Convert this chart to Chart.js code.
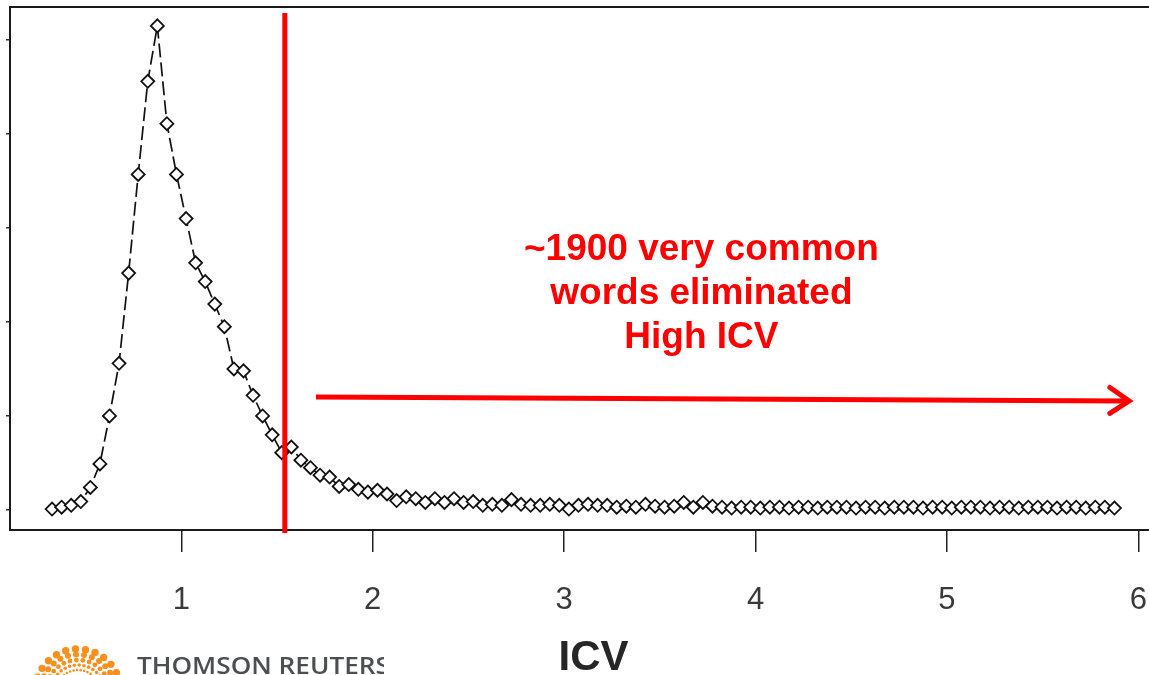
<!DOCTYPE html>
<html><head><meta charset="utf-8">
<script src="https://cdn.jsdelivr.net/npm/chart.js@4"></script>
<style>
html,body{margin:0;padding:0;background:#fff;overflow:hidden;width:1149px;height:675px;}
#wrap{position:absolute;left:0;top:0;width:1180px;height:675px;}
canvas{display:block;}
</style></head><body>
<div id="wrap"><canvas id="c" width="1180" height="675"></canvas></div>
<script>
// ---- data ----
const icvValues = [0.325,0.375,0.425,0.475,0.525,0.575,0.625,0.675,0.725,0.775,
  0.825,0.875,0.925,0.975,1.025,1.075,1.125,1.175,1.225,1.275,
  1.325,1.375,1.425,1.475,1.525,1.575,1.625,1.675,1.725,1.775,
  1.825,1.875,1.925,1.975,2.025,2.075,2.125,2.175,2.225,2.275,
  2.325,2.375,2.425,2.475,2.525,2.575,2.625,2.675,2.725,2.775,
  2.825,2.875,2.925,2.975,3.025,3.075,3.125,3.175,3.225,3.275,
  3.325,3.375,3.425,3.475,3.525,3.575,3.625,3.675,3.725,3.775,
  3.825,3.875,3.925,3.975,4.025,4.075,4.125,4.175,4.225,4.275,
  4.325,4.375,4.425,4.475,4.525,4.575,4.625,4.675,4.725,4.775,
  4.825,4.875,4.925,4.975,5.025,5.075,5.125,5.175,5.225,5.275,
  5.325,5.375,5.425,5.475,5.525,5.575,5.625,5.675,5.725,5.775,
  5.825,5.875];
const wordCounts = [1,3,5,9,24,49,100,156,252,357,
  456,515,411,357,310,263,243,219,195,150,
  148,122,100,80,61,67,53,45,37,35,
  25,27,22,19,21,17,10,14,12,8,
  12,8,12,8,9,5,6,5,11,6,
  5,5,6,5,1,5,6,5,5,3,
  4,3,6,4,3,4,8,3,8,4,
  3,2,3,3,2,3,3,2,3,3,
  2,3,3,3,2,3,3,2,3,3,
  3,2,3,3,2,3,3,3,2,3,
  3,2,3,3,3,2,3,3,2,3,
  3,2];
const xTickValues = [1,2,3,4,5,6];
const xTickLabels = ['1','2','3','4','5','6'];
const yTickValues = [0,100,200,300,400,500];
const xRange = [0.1053, 6.2022];
const yRange = [-21.3, 535.1];
const thresholdICV = [1.541];
const thresholdSpan = [-24.5, 528.7];
const arrowShaftX = [1.704, 5.942];
const arrowShaftY = [120.2, 116.0];
const arrowHeadX = [5.851, 5.952, 5.851];
const arrowHeadY = [130.3, 116.0, 102.7];
const noteLines = ['~1900 very common', 'words eliminated', 'High ICV'];
const noteAnchor = [3.717, 266];
const axisTitle = 'ICV';
const brandName = 'THOMSON REUTERS';

const pts = (xs, ys) => xs.map((x, i) => ({x, y: ys[i]}));

const decor = {
  id: 'decor',
  beforeDatasetsDraw(chart) {
    const {ctx, chartArea: a} = chart;
    ctx.save();
    ctx.strokeStyle = '#1a1a1a'; ctx.lineWidth = 2;
    ctx.beginPath(); ctx.moveTo(a.left - 1, a.top); ctx.lineTo(a.right, a.top); ctx.stroke();
    ctx.restore();
  },
  afterDraw(chart) {
    const ctx = chart.ctx, xs = chart.scales.x, ys = chart.scales.y;
    ctx.save();
    // annotation text
    ctx.fillStyle = '#ff0000';
    ctx.font = 'bold 37px "Liberation Sans", Arial, sans-serif';
    ctx.textAlign = 'center'; ctx.textBaseline = 'alphabetic';
    const cx = xs.getPixelForValue(noteAnchor[0]);
    const by = ys.getPixelForValue(noteAnchor[1]);
    noteLines.forEach((t, i) => ctx.fillText(t, cx, by + i * 44));
    // brand text
    ctx.save();
    ctx.beginPath(); ctx.rect(0, 630, 384, 45); ctx.clip();
    ctx.fillStyle = '#4d4e50';
    ctx.font = '600 23px "Open Sans", "Liberation Sans", sans-serif';
    ctx.textAlign = 'left';
    const w = ctx.measureText(brandName).width;
    ctx.translate(137, 674);
    ctx.scale(253 / w, 1);
    ctx.fillText(brandName, 0, 0);
    ctx.restore();
    // dotted logo
    ctx.fillStyle = '#f7901e';
    const lc = {x: 78, y: 692};
    const rings = [[22, 1.3], [27, 1.8], [32, 2.4], [37.5, 3.0], [43, 3.7]];
    rings.forEach(([r, dr], ri) => {
      const n = Math.round(2 * Math.PI * r / (dr * 2.7));
      for (let k = 0; k < n; k++) {
        const ang = (k + (ri % 2) * 0.5) / n * 2 * Math.PI;
        const px = lc.x + r * Math.cos(ang), py = lc.y + r * Math.sin(ang);
        if (py > 679) continue;
        ctx.beginPath(); ctx.arc(px, py, dr, 0, 2 * Math.PI); ctx.fill();
      }
    });
    ctx.restore();
  }
};

new Chart(document.getElementById('c'), {
  type: 'scatter',
  data: {
    datasets: [
      {
        data: pts(icvValues, wordCounts),
        showLine: true, tension: 0,
        borderColor: '#111', borderWidth: 1.7, borderDash: [14, 5],
        pointStyle: 'rectRot', pointRadius: 6.5, pointBorderWidth: 1.8,
        pointBorderColor: '#111', pointBackgroundColor: '#fff',
        order: 5
      },
      {
        data: pts([thresholdICV[0], thresholdICV[0]], thresholdSpan),
        showLine: true, borderColor: '#ff0000', borderWidth: 5,
        pointRadius: 0, clip: false, order: 0
      },
      {
        data: pts(arrowShaftX, arrowShaftY),
        showLine: true, borderColor: '#ff0000', borderWidth: 5,
        borderCapStyle: 'butt', pointRadius: 0, clip: false, order: 0
      },
      {
        data: pts(arrowHeadX, arrowHeadY),
        showLine: true, borderColor: '#ff0000', borderWidth: 5,
        borderCapStyle: 'round', borderJoinStyle: 'miter', pointRadius: 0, clip: false, order: 0
      }
    ]
  },
  options: {
    responsive: false, animation: false, devicePixelRatio: 1,
    layout: {autoPadding: false, padding: {top: 7, left: 0, right: 0, bottom: 0}},
    plugins: {legend: {display: false}, tooltip: {enabled: false}},
    scales: {
      x: {
        type: 'linear', min: xRange[0], max: xRange[1],
        afterBuildTicks: s => { s.ticks = xTickValues.map(v => ({value: v})); },
        afterFit: s => { s.height = 145; },
        grid: {drawOnChartArea: false, drawTicks: true, tickLength: 22, color: '#222', lineWidth: 1.5},
        border: {display: true, color: '#1a1a1a', width: 2},
        ticks: {
          callback: (v) => xTickLabels[xTickValues.indexOf(v)],
          color: '#3a3a3a', padding: 33, maxRotation: 0,
          font: {family: '"Liberation Sans", Arial, sans-serif', size: 31, lineHeight: 1}
        },
        title: {
          display: true, text: axisTitle, color: '#262626',
          font: {family: '"Liberation Sans", Arial, sans-serif', weight: 'bold', size: 42, lineHeight: 1},
          padding: {top: 0, bottom: -4}
        }
      },
      y: {
        type: 'linear', min: yRange[0], max: yRange[1],
        afterBuildTicks: s => { s.ticks = yTickValues.map(v => ({value: v})); },
        afterFit: s => { s.width = 10; },
        grid: {drawOnChartArea: false, drawTicks: true, tickLength: 4, color: '#333', lineWidth: 1.5},
        border: {display: true, color: '#1a1a1a', width: 2},
        ticks: {display: false}
      }
    }
  },
  plugins: [decor]
});
</script>
</body></html>
